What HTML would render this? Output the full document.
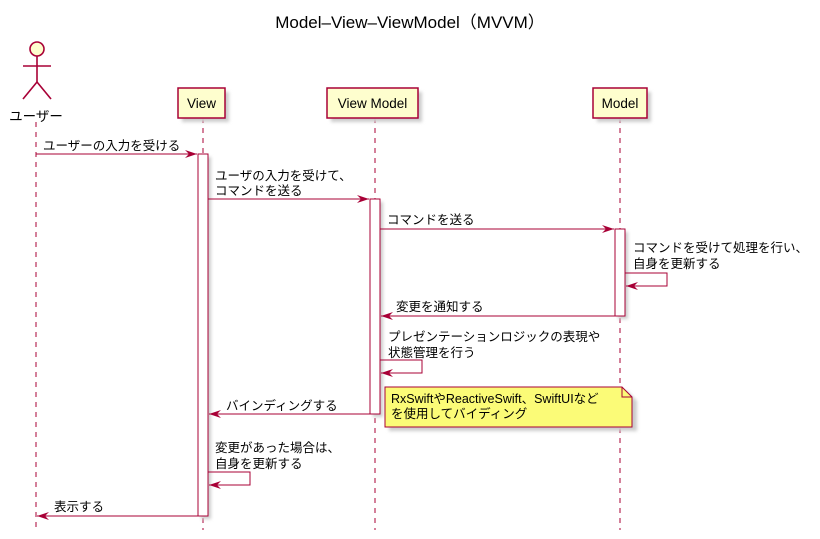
<!DOCTYPE html>
<html><head><meta charset="utf-8"><style>
html,body{margin:0;padding:0;background:#fff}
svg{display:block}
text{font-family:"Liberation Sans","Noto Sans CJK JP",sans-serif;font-size:12.5px;fill:#000}
</style></head><body>
<svg width="820" height="539" viewBox="0 0 820 539" xmlns="http://www.w3.org/2000/svg">
<defs>
<filter id="sh" x="-20%" y="-20%" width="150%" height="150%"><feGaussianBlur stdDeviation="1.5"/></filter>
</defs>
<text x="410" y="28" text-anchor="middle" style="font-size:17px">Model–View–ViewModel（MVVM）</text>
<g stroke="#A80036" stroke-dasharray="5,5" stroke-width="1">
<line x1="36" y1="122" x2="36" y2="530"/>
<line x1="203" y1="118" x2="203" y2="530"/>
<line x1="375" y1="118" x2="375" y2="530"/>
<line x1="620" y1="118" x2="620" y2="530"/>
</g>
<g stroke="#A80036" stroke-width="1.6" fill="none">
<circle cx="37" cy="49" r="7" fill="#FEFECE"/>
<line x1="37" y1="56" x2="37" y2="82"/>
<line x1="23" y1="66" x2="51" y2="66"/>
<line x1="37" y1="82" x2="23" y2="99"/>
<line x1="37" y1="82" x2="51" y2="99"/>
</g>
<text x="36" y="121" text-anchor="middle" style="font-size:13.5px">ユーザー</text>
<g>
<rect x="182" y="92" width="47" height="30" fill="#ccc" filter="url(#sh)"/>
<rect x="178" y="88" width="47" height="30" fill="#FEFECE" stroke="#A80036" stroke-width="1.5"/>
<text x="201.5" y="108" text-anchor="middle" style="font-size:13.5px">View</text>
<rect x="331" y="92" width="91" height="30" fill="#ccc" filter="url(#sh)"/>
<rect x="327" y="88" width="91" height="30" fill="#FEFECE" stroke="#A80036" stroke-width="1.5"/>
<text x="372.5" y="108" text-anchor="middle" style="font-size:13.5px">View Model</text>
<rect x="597" y="92" width="54" height="30" fill="#ccc" filter="url(#sh)"/>
<rect x="593" y="88" width="54" height="30" fill="#FEFECE" stroke="#A80036" stroke-width="1.5"/>
<text x="620" y="108" text-anchor="middle" style="font-size:13.5px">Model</text>
</g>
<g stroke="#A80036" stroke-width="1" fill="#fff">
<rect x="201" y="157" width="10" height="362" fill="#ccc" stroke="none" filter="url(#sh)"/>
<rect x="198" y="154" width="10" height="362"/>
<rect x="373" y="202" width="10" height="215" fill="#ccc" stroke="none" filter="url(#sh)"/>
<rect x="370" y="199" width="10" height="215"/>
<rect x="618" y="232" width="10" height="87" fill="#ccc" stroke="none" filter="url(#sh)"/>
<rect x="615" y="229" width="10" height="87"/>
</g>
<g stroke="#A80036" stroke-width="1" fill="none">
<line x1="36" y1="154" x2="197" y2="154"/>
<line x1="208" y1="199" x2="369" y2="199"/>
<line x1="380" y1="229" x2="614" y2="229"/>
<polyline points="625,273 667,273 667,286 626,286"/>
<line x1="615" y1="316" x2="381" y2="316"/>
<polyline points="380,360 422,360 422,373 381,373"/>
<line x1="370" y1="414" x2="209" y2="414"/>
<polyline points="208,472 250,472 250,485 209,485"/>
<line x1="198" y1="516" x2="37" y2="516"/>
</g>
<g fill="#A80036">
<polygon points="197,154 185,150 189,154 185,158"/>
<polygon points="369,199 357,195 361,199 357,203"/>
<polygon points="614,229 602,225 606,229 602,233"/>
<polygon points="626,286 638,282 634,286 638,290"/>
<polygon points="381,316 393,312 389,316 393,320"/>
<polygon points="381,373 393,369 389,373 393,377"/>
<polygon points="209,414 221,410 217,414 221,418"/>
<polygon points="209,485 221,481 217,485 221,489"/>
<polygon points="37,516 49,512 45,516 49,520"/>
</g>
<text x="43" y="150">ユーザーの入力を受ける</text>
<text x="215" y="180">ユーザの入力を受けて、</text>
<text x="215" y="195">コマンドを送る</text>
<text x="387" y="224">コマンドを送る</text>
<text x="633" y="252">コマンドを受けて処理を行い、</text>
<text x="633" y="268">自身を更新する</text>
<text x="396" y="311">変更を通知する</text>
<text x="388" y="341">プレゼンテーションロジックの表現や</text>
<text x="388" y="357">状態管理を行う</text>
<text x="226" y="410">バインディングする</text>
<text x="215" y="452">変更があった場合は、</text>
<text x="215" y="468">自身を更新する</text>
<text x="54" y="511">表示する</text>
<path d="M389,391 L627,391 L637,401 L637,431 L389,431 Z" fill="#ccc" filter="url(#sh)"/>
<path d="M385,387 L622,387 L632,397 L632,427 L385,427 Z" fill="#FBFB77" stroke="#A80036" stroke-width="1"/>
<path d="M622,387 L622,397 L632,397" fill="none" stroke="#A80036" stroke-width="1"/>
<text x="391" y="403">RxSwiftやReactiveSwift、SwiftUIなど</text>
<text x="391" y="418">を使用してバイディング</text>
</svg>
</body></html>
